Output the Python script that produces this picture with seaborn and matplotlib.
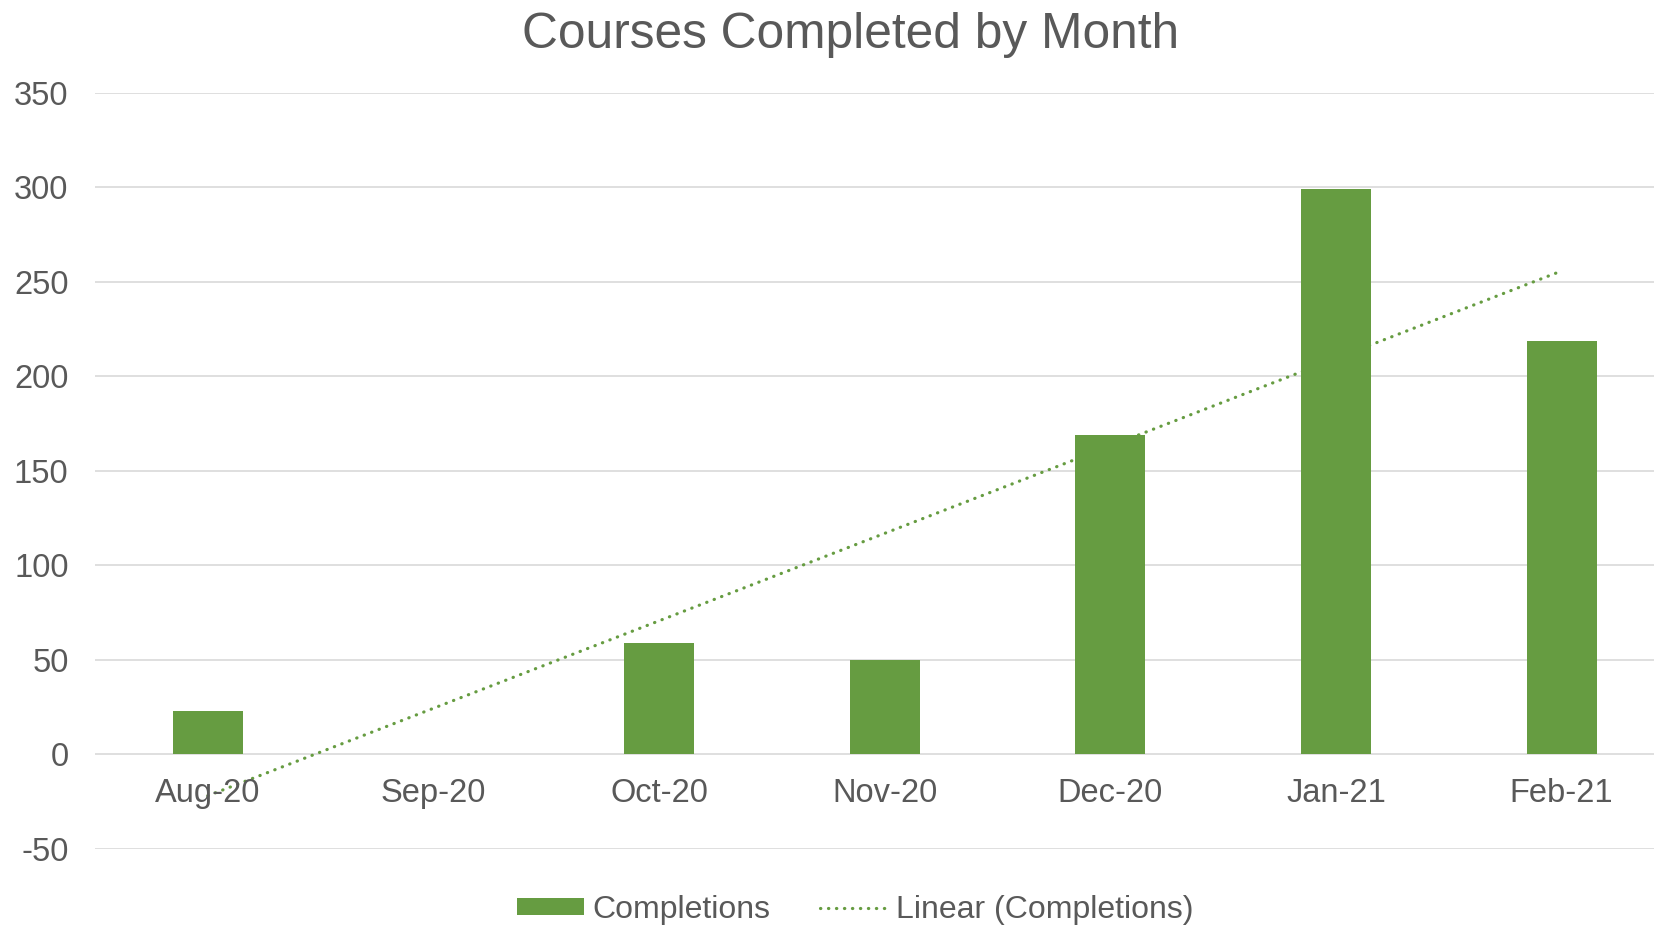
import matplotlib
matplotlib.use("Agg")
import matplotlib.pyplot as plt
import matplotlib.transforms as mtransforms
import numpy as np
import pandas as pd
import seaborn as sns

months = ["Aug-20", "Sep-20", "Oct-20", "Nov-20", "Dec-20", "Jan-21", "Feb-21"]
completions = [23, 0, 59, 50, 169, 299, 219]
y_ticks = [-50, 0, 50, 100, 150, 200, 250, 300, 350]

GREEN = "#669C41"
TEXT = "#595959"
GRID = "#D9D9D9"


def main():
    sns.set_style("white")
    plt.rcParams["font.family"] = ["Liberation Sans", "DejaVu Sans"]
    plt.rcParams["axes.unicode_minus"] = False

    df = pd.DataFrame({"month": months, "completions": completions})

    fig = plt.figure(figsize=(16.54, 9.25), dpi=100)
    # plot area runs a little past the right edge, like the source image
    ax = fig.add_axes([0.0574, 0.0822, 0.955, 0.8173])

    # Linear trendline (Excel style), fitted on category index
    idx = np.arange(len(months))
    slope, intercept = np.polyfit(idx, completions, 1)
    ax.plot(idx, slope * idx + intercept, color=GREEN, linewidth=2.3,
            linestyle=(0, (0.1, 2.4)), dash_capstyle="round",
            label="Linear (Completions)", zorder=2)

    sns.barplot(data=df, x="month", y="completions", color=GREEN,
                width=0.31, saturation=1, ax=ax, label="Completions",
                linewidth=0, zorder=3)
    if ax.get_legend() is not None:
        ax.get_legend().remove()

    ax.set_xlim(-0.5, len(months) - 0.5)
    ax.set_ylim(-50, 350)
    ax.set_yticks(y_ticks)
    ax.yaxis.grid(True, color=GRID, linewidth=1.2)
    ax.set_axisbelow(True)
    for s in ax.spines.values():
        s.set_visible(False)
    ax.tick_params(axis="both", length=0, labelsize=23.5, colors=TEXT)
    ax.tick_params(axis="y", pad=19)
    ax.set_xlabel("")
    ax.set_ylabel("")

    # category labels sit just under the zero line, like Excel
    ax.set_xticks(idx)
    ax.set_xticklabels([])
    for i, m in enumerate(months):
        ax.text(i, -20.5, m, ha="center", va="center",
                fontsize=23.5, color=TEXT)

    fig.suptitle("Courses Completed by Month", x=0.514, y=0.987, va="top",
                 fontsize=35.7, color=TEXT)

    handles, labels = ax.get_legend_handles_labels()
    order = [labels.index("Completions"), labels.index("Linear (Completions)")]
    leg = fig.legend([handles[i] for i in order], [labels[i] for i in order],
                     loc="center", bbox_to_anchor=(0.517, 0.0165), ncol=2,
                     frameon=False, fontsize=23, handlelength=2.1,
                     handleheight=0.46, columnspacing=1.55, handletextpad=0.26)
    for t in leg.get_texts():
        t.set_color(TEXT)

    fig.savefig("out.png", dpi=100)


if __name__ == "__main__":
    main()
